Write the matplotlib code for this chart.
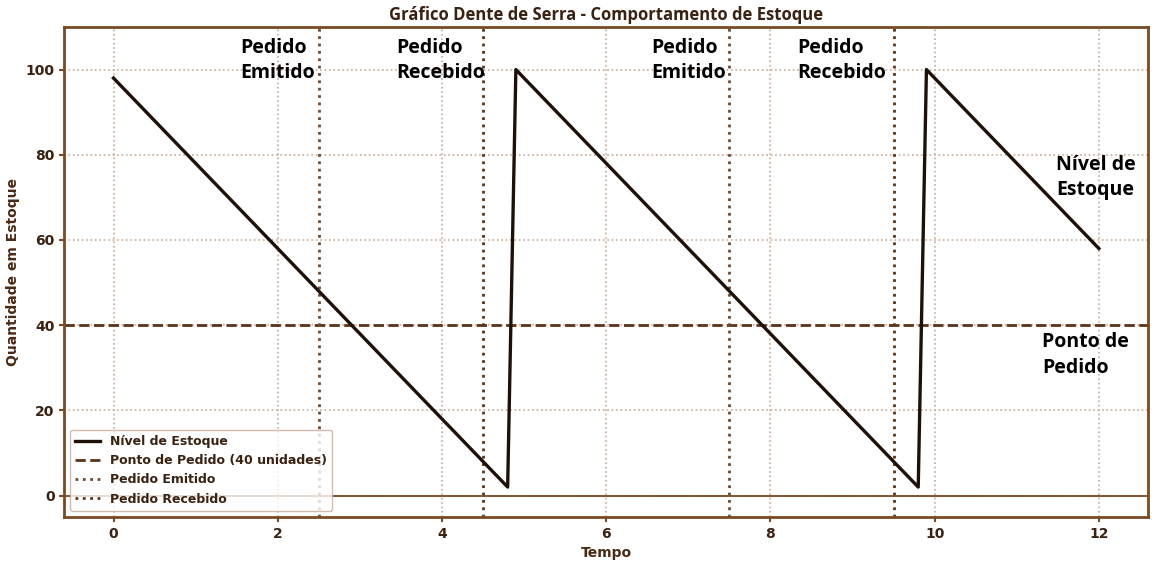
import matplotlib
matplotlib.use("Agg")
import matplotlib.pyplot as plt

# Sawtooth stock level
tempo = [0, 4.8, 4.9, 9.8, 9.9, 12]
estoque = [98, 2, 100, 2, 100, 58]

ponto_pedido = 40
pedidos_emitidos = [2.5, 7.5]
pedidos_recebidos = [4.5, 9.5]

# annotation texts and their (x, y) anchors in data units
notas = ["Pedido\nEmitido", "Pedido\nRecebido", "Pedido\nEmitido", "Pedido\nRecebido",
         "Nível de\nEstoque", "Ponto de\nPedido"]
notas_x = [1.54, 3.44, 6.55, 8.33, 11.48, 11.31]
notas_y = [107.5, 107.5, 107.5, 107.5, 80, 38.3]

DARK = "#1e1008"
BROWN = "#5a3418"
SPINE = "#7a4a25"
GRID = "#c9ab96"

fig = plt.figure(figsize=(11.68, 5.68), dpi=100)
ax = fig.add_axes([0.055, 0.09, 0.928, 0.8625])

ax.plot(tempo, estoque, color=DARK, lw=2.4, label="Nível de Estoque", zorder=5)
ax.axhline(ponto_pedido, color=BROWN, ls="--", lw=2, label="Ponto de Pedido (40 unidades)")
for i, x in enumerate(pedidos_emitidos):
    ax.axvline(x, color="#6e4a30", ls=":", lw=2, label="Pedido Emitido" if i == 0 else None)
for i, x in enumerate(pedidos_recebidos):
    ax.axvline(x, color=BROWN, ls=":", lw=2, label="Pedido Recebido" if i == 0 else None)
ax.axhline(0, color=SPINE, lw=1.3)

for txt, x, y in zip(notas, notas_x, notas_y):
    ax.text(x, y, txt, fontsize=14, fontweight="bold", family="Open Sans",
            color="black", va="top", ha="left", linespacing=1.35)

ax.set_xlim(-0.6, 12.6)
ax.set_ylim(-5, 110)
ax.set_xticks([0, 2, 4, 6, 8, 10, 12])
ax.set_yticks([0, 20, 40, 60, 80, 100])
ax.grid(True, color=GRID, ls=":", lw=1.2)

for s in ax.spines.values():
    s.set_color(SPINE)
    s.set_linewidth(2)
ax.tick_params(colors=SPINE, labelcolor="#3a2212", width=1.5, labelsize=10)
for lab in ax.get_xticklabels() + ax.get_yticklabels():
    lab.set_fontweight("bold")

ax.set_title("Gráfico Dente de Serra - Comportamento de Estoque", fontsize=12,
             color="#3a2212", family="Open Sans", fontweight="bold", pad=5)
ax.set_xlabel("Tempo", fontsize=10, fontweight="bold", color="#4a2a14")
ax.set_ylabel("Quantidade em Estoque", fontsize=10, fontweight="bold", color="#4a2a14")

leg = ax.legend(loc="lower left", fontsize=9, frameon=True, labelcolor="#3a2212",
                prop={"weight": "bold", "size": 9})
leg.get_frame().set_edgecolor(GRID)

fig.savefig("out.png", dpi=100)
